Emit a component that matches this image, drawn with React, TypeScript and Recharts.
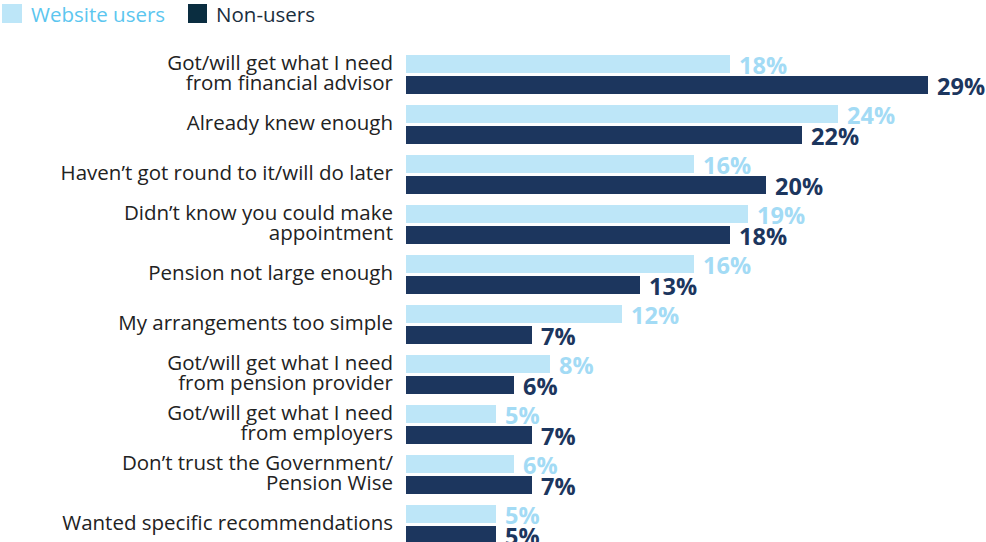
import React from "react";
import { BarChart, Bar, XAxis, YAxis, LabelList } from "recharts";

const categories = [
  "Got/will get what I need\nfrom financial advisor",
  "Already knew enough",
  "Haven\u2019t got round to it/will do later",
  "Didn\u2019t know you could make\nappointment",
  "Pension not large enough",
  "My arrangements too simple",
  "Got/will get what I need\nfrom pension provider",
  "Got/will get what I need\nfrom employers",
  "Don\u2019t trust the Government/\nPension Wise",
  "Wanted specific recommendations",
];
const websiteUsers = [18, 24, 16, 19, 16, 12, 8, 5, 6, 5];
const nonUsers = [29, 22, 20, 18, 13, 7, 6, 7, 7, 5];

const data = categories.map((c, i) => ({ name: c, web: websiteUsers[i], non: nonUsers[i] }));

const FONT = "'Open Sans', 'Noto Sans', sans-serif";
const LIGHT = "#bde6f8";
const LIGHT_TEXT = "#a3dbf5";
const DARK = "#1c365e";

const CategoryTick = (props: any) => {
  const { x, y, payload } = props;
  const lines = String(payload.value).split("\n");
  const lh = 20;
  const start = -((lines.length - 1) * lh) / 2;
  return (
    <text x={x} y={y} textAnchor="end" fill="#222" fontSize={20.5} fontFamily={FONT}>
      {lines.map((l, i) => (
        <tspan key={i} x={x} dy={i === 0 ? start + 6 : lh}>
          {l}
        </tspan>
      ))}
    </text>
  );
};

const makeLabel = (color: string) => (props: any) => {
  const { x, y, width, height, value } = props;
  return (
    <text
      x={x + width + 9}
      y={y + height / 2 + 10}
      fill={color}
      fontSize={23.5}
      fontWeight={700}
      fontFamily={FONT}
    >
      {value}%
    </text>
  );
};

export default function App() {
  return (
    <div style={{ position: "absolute", left: 0, top: 0, width: 986, height: 560, background: "#fff" }}>
      <div
        style={{
          position: "absolute",
          left: 2,
          top: 0,
          display: "flex",
          alignItems: "center",
          height: 27,
          fontFamily: FONT,
          fontSize: 20.5,
        }}
      >
        <span style={{ display: "inline-block", width: 20, height: 19, background: LIGHT, marginRight: 9 }} />
        <span style={{ color: "#5cc6ef", marginRight: 23 }}>Website users</span>
        <span style={{ display: "inline-block", width: 19, height: 19, background: "#0a2d40", marginRight: 9 }} />
        <span style={{ color: "#1a2e3e" }}>Non-users</span>
      </div>
      <BarChart
        width={986}
        height={560}
        data={data}
        layout="vertical"
        margin={{ top: 49, right: 40, bottom: 11, left: 0 }}
        barSize={18}
        barGap={3}
      >
        <XAxis type="number" domain={[0, 30]} hide />
        <YAxis
          type="category"
          dataKey="name"
          width={406}
          axisLine={false}
          tickLine={false}
          tickSize={0}
          tickMargin={13}
          interval={0}
          tick={<CategoryTick />}
        />
        <Bar dataKey="web" fill={LIGHT} isAnimationActive={false}>
          <LabelList dataKey="web" content={makeLabel(LIGHT_TEXT)} />
        </Bar>
        <Bar dataKey="non" fill={DARK} isAnimationActive={false}>
          <LabelList dataKey="non" content={makeLabel(DARK)} />
        </Bar>
      </BarChart>
    </div>
  );
}
